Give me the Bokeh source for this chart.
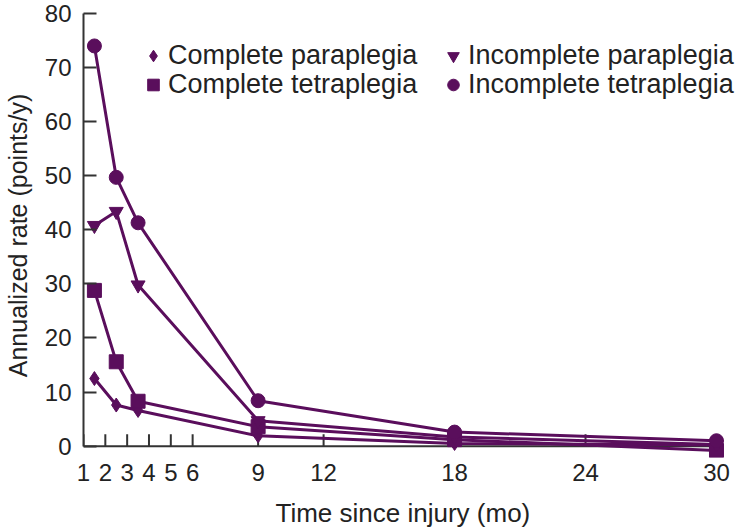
from bokeh.plotting import figure
from bokeh.models import Range1d, FixedTicker, Legend, LegendItem, Title
from bokeh.embed import file_html
from bokeh.resources import INLINE

# Months since injury at which each rate was measured
months = [1.5, 2.5, 3.5, 9, 18, 30]

# Annualized rate of recovery (points/y) for each injury group
complete_para = [12.5, 7.6, 6.6, 1.9, 0.5, 0.2]
complete_tetra = [28.8, 15.6, 8.3, 3.6, 1.2, -0.8]
incomplete_para = [40.8, 43.4, 29.8, 4.7, 1.7, 0.3]
incomplete_tetra = [74.0, 49.7, 41.3, 8.4, 2.6, 1.0]

x_ticks = [1, 2, 3, 4, 5, 6, 9, 12, 18, 24, 30]
y_ticks = [0, 10, 20, 30, 40, 50, 60, 70, 80]

PURPLE = "#5a0e5c"
TEXT = "#222222"
AXIS = "#333333"
FONT = "Liberation Sans"
TICK_LEN = 2.2  # inner tick length on the zero line, in rate units

p = figure(
    frame_width=657, frame_height=444,
    x_range=Range1d(1, 31.1), y_range=Range1d(-2.1, 80),
    output_backend="svg", toolbar_location=None,
    min_border_left=82, min_border_right=1,
    min_border_top=13, min_border_bottom=10,
)
p.outline_line_color = None
p.xgrid.grid_line_color = None
p.ygrid.grid_line_color = None
p.background_fill_color = "white"
p.border_fill_color = "white"

# bottom axis carries only the tick labels;
# the axis line and its inner ticks are drawn on the zero line
xa = p.xaxis[0]
xa.ticker = FixedTicker(ticks=x_ticks, minor_ticks=[])
xa.axis_line_color = None
xa.major_tick_line_color = None
xa.minor_tick_line_color = None
xa.major_tick_in = 0
xa.major_tick_out = 0
xa.major_label_standoff = 6

# time axis title, set under the plotted span of months
p.add_layout(Title(
    text="Time since injury (mo)", align="left", offset=192, standoff=24,
    text_font=FONT, text_font_size="26px", text_font_style="normal",
    text_color=TEXT,
), "below")

ya = p.yaxis[0]
ya.bounds = (0, 80)
ya.ticker = FixedTicker(ticks=y_ticks, minor_ticks=[])
ya.axis_label = "Annualized rate (points/y)"
ya.axis_line_color = AXIS
ya.axis_line_width = 2
ya.major_tick_line_color = AXIS
ya.major_tick_line_width = 2
ya.major_tick_in = 13
ya.major_tick_out = 0
ya.major_label_standoff = 12
ya.axis_label_standoff = 10

for ax in (xa, ya):
    ax.minor_tick_in = 0
    ax.minor_tick_out = 0
    ax.major_label_text_font = FONT
    ax.major_label_text_font_size = "24px"
    ax.major_label_text_color = TEXT
    ax.axis_label_text_font = FONT
    ax.axis_label_text_font_size = "25px"
    ax.axis_label_text_font_style = "normal"
    ax.axis_label_text_color = TEXT

# time axis line along zero, with upward ticks
p.segment(x0=[x_ticks[0]], y0=[0], x1=[x_ticks[-1]], y1=[0],
          line_color=AXIS, line_width=2)
p.segment(x0=x_ticks, y0=[0] * len(x_ticks),
          x1=x_ticks, y1=[TICK_LEN] * len(x_ticks),
          line_color=AXIS, line_width=2)

series = [
    ("Complete paraplegia", complete_para, "diamond", 14),
    ("Complete tetraplegia", complete_tetra, "square", 14),
    ("Incomplete paraplegia", incomplete_para, "inverted_triangle", 14),
    ("Incomplete tetraplegia", incomplete_tetra, "circle", 14),
]
markers = []
for _, ys, marker, size in series:
    p.line(months, ys, line_color=PURPLE, line_width=3)
for _, ys, marker, size in series:
    r = p.scatter(months, ys, marker=marker, size=size,
                  fill_color=PURPLE, line_color=PURPLE)
    markers.append(r)

legend_style = dict(
    background_fill_alpha=0, border_line_color=None,
    padding=0, margin=0, spacing=0,
    glyph_width=30, glyph_height=29, label_height=29,
    label_standoff=0,
    label_text_font=FONT, label_text_font_size="27px",
    label_text_color=TEXT,
)
# two columns of two entries, each entry placed on its own
legend_spots = [(55, 386), (55, 357), (355, 386), (355, 357)]
for (label, *_), r, spot in zip(series, markers, legend_spots):
    p.add_layout(Legend(items=[LegendItem(label=label, renderers=[r])],
                        location=spot, **legend_style))

open("out.html", "w").write(file_html(p, INLINE))
